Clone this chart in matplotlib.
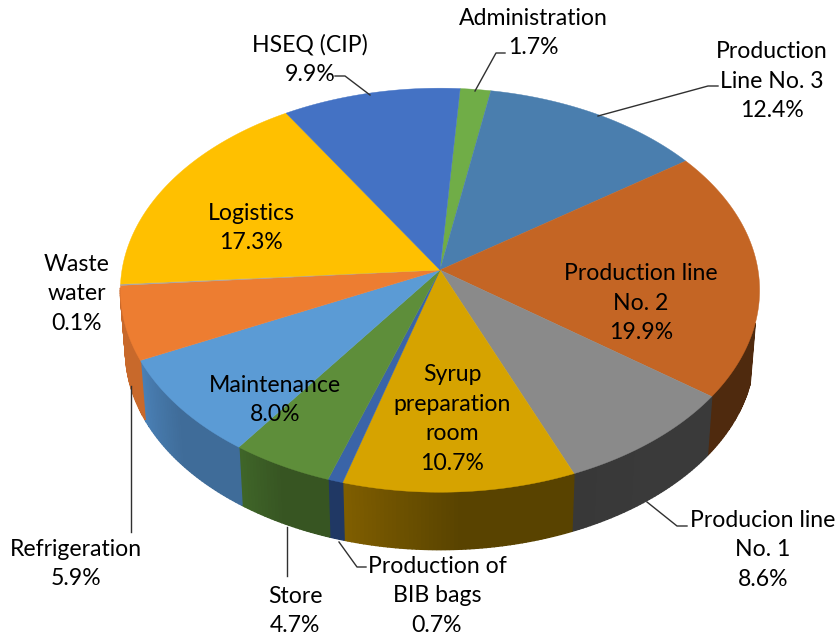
import numpy as np
import matplotlib
matplotlib.use("Agg")
import matplotlib.pyplot as plt
from matplotlib.colors import to_rgb

plt.rcParams['font.family'] = ['Lato', 'DejaVu Sans']

categories = ["Administration", "Production\nLine No. 3", "Production line\nNo. 2", "Producion line\nNo. 1",
              "Syrup\npreparation\nroom", "Production of\nBIB bags", "Store", "Maintenance",
              "Refrigeration", "Waste\nwater", "Logistics", "HSEQ (CIP)"]
values = [1.7, 12.4, 19.9, 8.6, 10.7, 0.7, 4.7, 8.0, 5.9, 0.1, 17.3, 9.9]
value_labels = ["1.7%", "12.4%", "19.9%", "8.6%", "10.7%", "0.7%", "4.7%", "8.0%", "5.9%", "0.1%", "17.3%", "9.9%"]
top_colors = ["#70AD47", "#4A7EAE", "#C46524", "#8A8A8A", "#D6A300", "#3A64A8", "#5E8E3A", "#5B9BD5",
              "#ED7D31", "#A5A5A5", "#FFC000", "#4472C4"]
# side wall colours: screen-left end and screen-right end of each slice
side_screen_left = ["#70AD47", "#4A7EAE", "#4F2A0E", "#383838", "#7F5E00", "#203864", "#3F6528", "#4A80B5",
                    "#C8692B", "#A5A5A5", "#FFC000", "#4472C4"]
side_screen_right = ["#70AD47", "#4A7EAE", "#4F2A0E", "#3A3A3A", "#594300", "#203864", "#375522", "#3F6C99",
                     "#C8692B", "#A5A5A5", "#FFC000", "#4472C4"]

CX, CY = 440, 270
A0, S, K, R = 4.0, 200.0, 0.100, 318.0
DEPTH = 61
SHRINK = 0.984


def project(theta, lower=False):
    u, v = np.sin(theta), np.cos(theta)
    f = 1 / (1 + K * v)
    s = SHRINK if lower else 1
    return CX + s * R * u * f, CY + (DEPTH if lower else 0) - s * S * v * f


fig = plt.figure(figsize=(8.39, 6.40), dpi=100)
ax = fig.add_axes([0, 0, 1, 1])
ax.set_xlim(0, 839)
ax.set_ylim(640, 0)
ax.axis("off")

edges = A0 + np.concatenate([[0], np.cumsum(values)]) * 3.6 * 100 / sum(values)
for i in range(len(values)):
    n = max(2, int((edges[i + 1] - edges[i]) * 1.5))
    th = np.radians(np.linspace(edges[i], edges[i + 1], n + 1))
    cl, cr = np.array(to_rgb(side_screen_left[i])), np.array(to_rgb(side_screen_right[i]))
    for j in range(n):
        a = th[j:j + 2]
        limit = -0.25 if a[0] < np.pi else -0.08
        if np.cos(a).max() > limit:
            continue
        xt, yt = project(a)
        xb, yb = project(a, True)
        leftness = j / max(1, n - 1)
        col = cr + (cl - cr) * max(0.0, (leftness - 0.5) / 0.5)
        ax.fill(np.r_[xt, xb[::-1]], np.r_[yt, yb[::-1]], facecolor=col, edgecolor=col, lw=1.0, zorder=2)
for i in range(len(values)):
    th = np.radians(np.linspace(edges[i], edges[i + 1], max(3, int((edges[i + 1] - edges[i]) * 2))))
    x, y = project(th)
    ax.fill(np.r_[CX, x], np.r_[CY, y], color=top_colors[i], lw=0.3, zorder=3)

leaders = [[(475, 91), (496, 53), (505, 53)], [(598, 116), (708, 86), (718, 86)],
           [(370, 95), (345, 76), (335, 76)], [(131, 386), (131, 532)], [(287, 527), (287, 576)],
           [(339, 542), (357, 567), (366, 567)], [(647, 502), (677, 526), (687, 526)]]
for pts in leaders:
    p = np.array(pts)
    ax.plot(p[:, 0], p[:, 1], color="#303030", lw=1, zorder=4)

pos = [(533, 33), (772, 81), (641, 303), (763, 550), (452, 419), (437, 596), (295, 611), (275, 400),
       (76, 564), (77, 294), (251, 228), (310, 59)]
for c, t, (x, y) in zip(categories, value_labels, pos):
    ax.text(x, y, c + "\n" + t, ha="center", va="center", fontsize=16.6, color="black", linespacing=1.5, zorder=5)
fig.savefig("out.png", dpi=100)
